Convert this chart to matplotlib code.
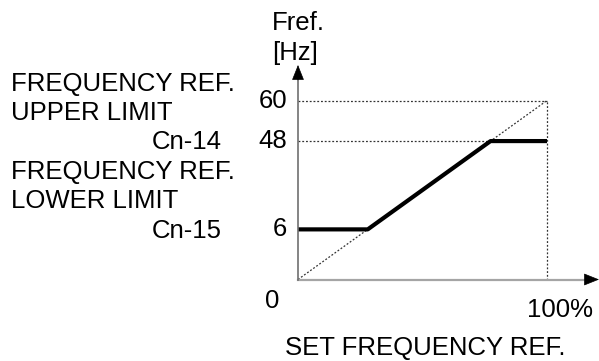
import numpy as np
import matplotlib
matplotlib.use("Agg")
import matplotlib.pyplot as plt

plt.rcParams['font.family'] = ['Liberation Sans', 'DejaVu Sans']

# values shown on the diagram
set_ref_pct = [0, 100]          # set frequency reference range [%]
max_freq = 60                   # Hz at 100 %
upper_limit = 48                # Cn-14 [Hz]
lower_limit = 6                 # Cn-15 [Hz]
freq_labels = ["6", "48", "60"]
# the sketch is not to scale: height at which each level is drawn
level_heights = [16.8, 46.4, 60]

low_h, up_h, top_h = level_heights

W, H = 599, 361
fig = plt.figure(figsize=(W / 100, H / 100), dpi=100)

# axes: origin at pixel (298, 279.5), 100 % at x=547, 60 at y=100.5
px_x = (547 - 298) / 100.0
px_y = (279.5 - 100.5) / float(max_freq)
xmax = (599 - 298) / px_x
ymax = (279.5 - 65) / px_y
ax = fig.add_axes([298 / W, (H - 279.5) / H, (599 - 298) / W, (279.5 - 65) / H])
ax.set_xlim(0, xmax)
ax.set_ylim(0, ymax)
ax.axis('off')


def px(x, y):
    return x / W, 1 - y / H


dot = dict(color='#333333', lw=0.9, linestyle=(0, (1.5, 1.5)), clip_on=False)

# dotted guides
x100 = set_ref_pct[1]
ax.plot(set_ref_pct, [0, top_h], **dot)                  # 1:1 line
ax.plot([0, x100], [top_h, top_h], **dot)
ax.plot([x100, x100], [0, top_h], **dot)
bp_low = low_h / top_h * x100
bp_up = up_h / top_h * x100
ax.plot([0, bp_up], [up_h, up_h], **dot)

# output frequency reference, clamped between limits
xs = np.array([0, bp_low, bp_up, x100])
ys = np.clip(xs / x100 * top_h, low_h, up_h)
ax.plot(xs, ys, color='black', lw=3, solid_capstyle='butt', clip_on=False)

# axis lines with arrow heads
ax.plot([0, xmax - 3], [0, 0], color='#a5a5a5', lw=1.6, clip_on=False)
ax.plot([0, 0], [0, ymax - 3], color='#707070', lw=1.2, clip_on=False)
head = dict(arrowstyle='-|>,head_length=0.75,head_width=0.3', color='black',
            lw=0.5, mutation_scale=13, shrinkA=0, shrinkB=0)
ax.annotate('', xy=(xmax, 0), xytext=(xmax - 5, 0), arrowprops=head,
            annotation_clip=False)
ax.annotate('', xy=(0, ymax), xytext=(0, ymax - 5), arrowprops=head,
            annotation_clip=False)

fs = 18.5
# y tick labels
for h, lab in zip(level_heights, freq_labels):
    ax.annotate(lab, xy=(0, h), xytext=(-11, 0), textcoords='offset pixels',
                ha='right', va='center', fontsize=fs, annotation_clip=False)

fig.text(*px(272, 30), "Fref.", fontsize=fs, ha='left', va='baseline')
fig.text(*px(272, 60), "[Hz]", fontsize=fs, ha='left', va='baseline')
fig.text(*px(272, 301), "0", fontsize=fs, ha='center', va='center')
fig.text(*px(527, 317), "100%", fontsize=fs, ha='left', va='baseline')
fig.text(*px(425, 355), "SET FREQUENCY REF.", fontsize=fs, ha='center',
         va='baseline')

# limit labels on the left
fig.text(*px(11, 91), "FREQUENCY REF.", fontsize=fs, va='baseline')
fig.text(*px(11, 120), "UPPER LIMIT", fontsize=fs, va='baseline')
fig.text(*px(222, 149), "Cn-14", fontsize=fs, ha='right', va='baseline')
fig.text(*px(11, 179), "FREQUENCY REF.", fontsize=fs, va='baseline')
fig.text(*px(11, 208), "LOWER LIMIT", fontsize=fs, va='baseline')
fig.text(*px(222, 238), "Cn-15", fontsize=fs, ha='right', va='baseline')

fig.savefig("out.png", dpi=100, facecolor='white')
